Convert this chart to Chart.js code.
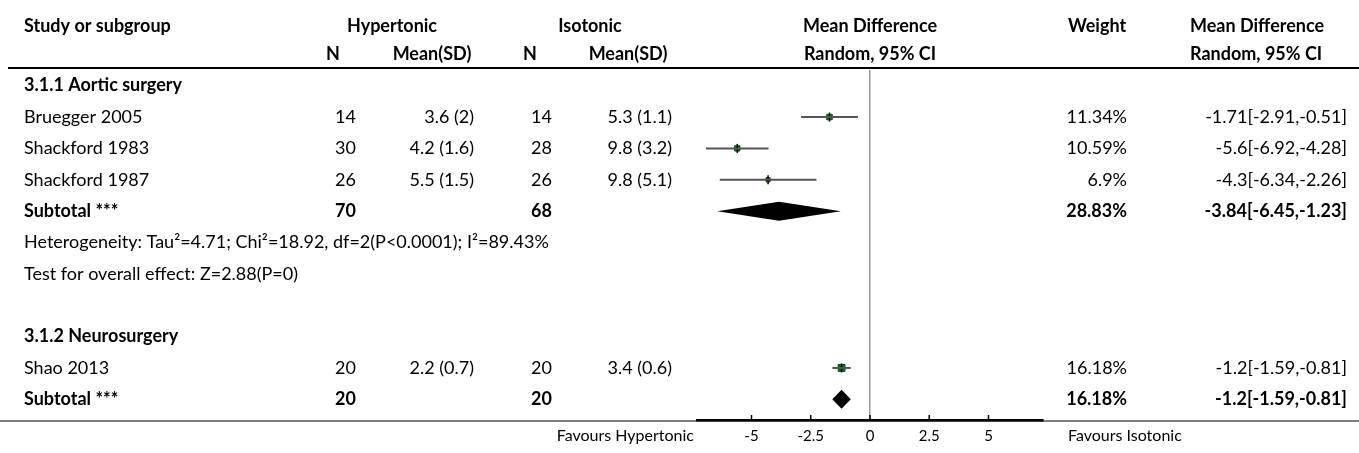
<!DOCTYPE html>
<html>
<head>
<meta charset="utf-8">
<script src="https://cdn.jsdelivr.net/npm/chart.js@4.4.1/dist/chart.umd.min.js"></script>
<style>
  html, body { margin: 0; padding: 0; background: #fff; }
</style>
</head>
<body>
<canvas id="forest" width="1359" height="453"></canvas>
<script>
// Individual studies
const studies = ['Bruegger 2005', 'Shackford 1983', 'Shackford 1987', 'Shao 2013'];
const studyRows = [1, 2, 3, 9];
const hyperN = [14, 30, 26, 20];
const hyperMean = [3.6, 4.2, 5.5, 2.2];
const hyperSD = [2, 1.6, 1.5, 0.7];
const isoN = [14, 28, 26, 20];
const isoMean = [5.3, 9.8, 9.8, 3.4];
const isoSD = [1.1, 3.2, 5.1, 0.6];
const weights = [11.34, 10.59, 6.9, 16.18];
const md = [-1.71, -5.6, -4.3, -1.2];
const ciLow = [-2.91, -6.92, -6.34, -1.59];
const ciHigh = [-0.51, -4.28, -2.26, -0.81];

// Subgroups and pooled results
const groups = ['3.1.1 Aortic surgery', '3.1.2 Neurosurgery'];
const groupRows = [0, 8];
const subRows = [4, 10];
const subHyperN = [70, 20];
const subIsoN = [68, 20];
const subWeight = [28.83, 16.18];
const subMd = [-3.84, -1.2];
const subLow = [-6.45, -1.59];
const subHigh = [-1.23, -0.81];
const hetLines = [
  'Heterogeneity: Tau\u00b2=4.71; Chi\u00b2=18.92, df=2(P<0.0001); I\u00b2=89.43%',
  'Test for overall effect: Z=2.88(P=0)'
];
const hetRows = [5, 6];

// Axis
const tickValues = [-5, -2.5, 0, 2.5, 5];
const tickLabels = ['-5', '-2.5', '0', '2.5', '5'];
const favours = ['Favours Hypertonic', 'Favours Isotonic'];

const FONT = 'Lato';
const font = (w, s) => `${w} ${s}px ${FONT}`;

// column anchors for the table text
const COL = {
  study: 24, n1: 356, m1: 474, n2: 552, m2: 672, weight: 1127, ci: 1347
};

const ciDatasets = studies.map((s, i) => ({
  type: 'line',
  data: [{ x: ciLow[i], y: studyRows[i] }, { x: ciHigh[i], y: studyRows[i] }],
  borderColor: '#555',
  borderWidth: 2,
  pointRadius: 0
}));

// pooled diamonds and all the table text
const tablePlugin = {
  id: 'table',
  afterDatasetsDraw(chart) {
    const { ctx, scales: { x, y } } = chart;
    ctx.save();
    ctx.fillStyle = '#000';
    subMd.forEach((m, i) => {
      const cy = y.getPixelForValue(subRows[i]);
      ctx.beginPath();
      ctx.moveTo(x.getPixelForValue(subLow[i]), cy);
      ctx.lineTo(x.getPixelForValue(m), cy - 9.5);
      ctx.lineTo(x.getPixelForValue(subHigh[i]), cy);
      ctx.lineTo(x.getPixelForValue(m), cy + 9.5);
      ctx.closePath();
      ctx.fill();
    });
    ctx.restore();
  },
  afterDraw(chart) {
    const { ctx, chartArea, scales: { x, y } } = chart;
    const W = chart.width;
    ctx.save();

    // horizontal rules
    ctx.strokeStyle = '#000';
    ctx.lineWidth = 2;
    ctx.beginPath();
    ctx.moveTo(8, 68); ctx.lineTo(W, 68);
    ctx.stroke();
    ctx.lineWidth = 1.2;
    ctx.beginPath();
    ctx.moveTo(0, chartArea.bottom + 1); ctx.lineTo(W, chartArea.bottom + 1);
    ctx.stroke();

    // tick marks pointing up from the axis
    ctx.lineWidth = 1.5;
    tickValues.forEach(v => {
      const px = x.getPixelForValue(v);
      ctx.beginPath();
      ctx.moveTo(px, chartArea.bottom);
      ctx.lineTo(px, chartArea.bottom - 5);
      ctx.stroke();
    });

    ctx.fillStyle = '#000';
    ctx.textBaseline = 'middle';
    const text = (s, px, row, align, weight) => {
      ctx.font = font(weight || 'normal', 18);
      ctx.textAlign = align;
      ctx.fillText(s, px, y.getPixelForValue(row));
    };

    // header
    const h1 = -1.9, h2 = -1;
    text('Study or subgroup', COL.study, h1, 'left', 'bold');
    text('Hypertonic', 392, h1, 'center', 'bold');
    text('Isotonic', 590, h1, 'center', 'bold');
    text('Mean Difference', x.getPixelForValue(0), h1, 'center', 'bold');
    text('Weight', 1097, h1, 'center', 'bold');
    text('Mean Difference', 1190, h1, 'left', 'bold');
    text('N', 333, h2, 'center', 'bold');
    text('Mean(SD)', 432, h2, 'center', 'bold');
    text('N', 530, h2, 'center', 'bold');
    text('Mean(SD)', 628, h2, 'center', 'bold');
    text('Random, 95% CI', x.getPixelForValue(0), h2, 'center', 'bold');
    text('Random, 95% CI', 1190, h2, 'left', 'bold');

    // subgroup headings
    groups.forEach((g, i) => text(g, COL.study, groupRows[i], 'left', 'bold'));

    // study rows
    studies.forEach((s, i) => {
      const r = studyRows[i];
      text(s, COL.study, r, 'left');
      text(String(hyperN[i]), COL.n1, r, 'right');
      text(`${hyperMean[i]} (${hyperSD[i]})`, COL.m1, r, 'right');
      text(String(isoN[i]), COL.n2, r, 'right');
      text(`${isoMean[i]} (${isoSD[i]})`, COL.m2, r, 'right');
      text(`${weights[i]}%`, COL.weight, r, 'right');
      text(`${md[i]}[${ciLow[i]},${ciHigh[i]}]`, COL.ci, r, 'right');
    });

    // subtotals
    subRows.forEach((r, i) => {
      text('Subtotal ***', COL.study, r, 'left', 'bold');
      text(String(subHyperN[i]), COL.n1, r, 'right', 'bold');
      text(String(subIsoN[i]), COL.n2, r, 'right', 'bold');
      text(`${subWeight[i]}%`, COL.weight, r, 'right', 'bold');
      text(`${subMd[i]}[${subLow[i]},${subHigh[i]}]`, COL.ci, r, 'right', 'bold');
    });

    hetLines.forEach((s, i) => text(s, COL.study, hetRows[i], 'left'));

    // favours labels either side of the axis
    const fy = chartArea.bottom + 16;
    ctx.font = font('normal', 16);
    ctx.textAlign = 'right';
    ctx.fillText(favours[0], chartArea.left - 3, fy);
    ctx.textAlign = 'left';
    ctx.fillText(favours[1], chartArea.right + 25, fy);

    ctx.restore();
  }
};

new Chart(document.getElementById('forest'), {
  type: 'scatter',
  data: {
    datasets: [
      ...ciDatasets,
      {
        // vertical stroke through each estimate
        data: md.map((v, i) => ({ x: v, y: studyRows[i] })),
        pointStyle: 'line',
        rotation: 90,
        radius: 4.5,
        borderColor: '#000',
        borderWidth: 1.5
      },
      {
        data: md.map((v, i) => ({ x: v, y: studyRows[i] })),
        pointStyle: 'rect',
        radius: weights.map(w => 1.6 + w * 0.2),
        backgroundColor: '#0b7a12',
        borderColor: '#064a0a',
        borderWidth: 1
      }
    ]
  },
  options: {
    responsive: false,
    devicePixelRatio: 1,
    animation: false,
    events: [],
    layout: { padding: { left: 697, right: 316, top: 70, bottom: 1 } },
    plugins: { legend: { display: false }, tooltip: { enabled: false } },
    scales: {
      x: {
        type: 'linear',
        min: -7.3,
        max: 7.3,
        afterBuildTicks: axis => { axis.ticks = tickValues.map(v => ({ value: v })); },
        ticks: {
          callback: (v, i) => tickLabels[i],
          font: { family: FONT, size: 15 },
          color: '#000',
          padding: 7,
          maxRotation: 0,
          autoSkip: false
        },
        grid: {
          drawTicks: false,
          lineWidth: 1.5,
          color: c => (c.tick && c.tick.value === 0 ? '#9a9a9a' : 'rgba(0,0,0,0)')
        },
        border: { display: true, color: '#000', width: 2.5 }
      },
      y: {
        type: 'linear',
        display: false,
        reverse: true,
        min: -0.5,
        max: 10.66
      }
    }
  },
  plugins: [tablePlugin]
});
</script>
</body>
</html>
